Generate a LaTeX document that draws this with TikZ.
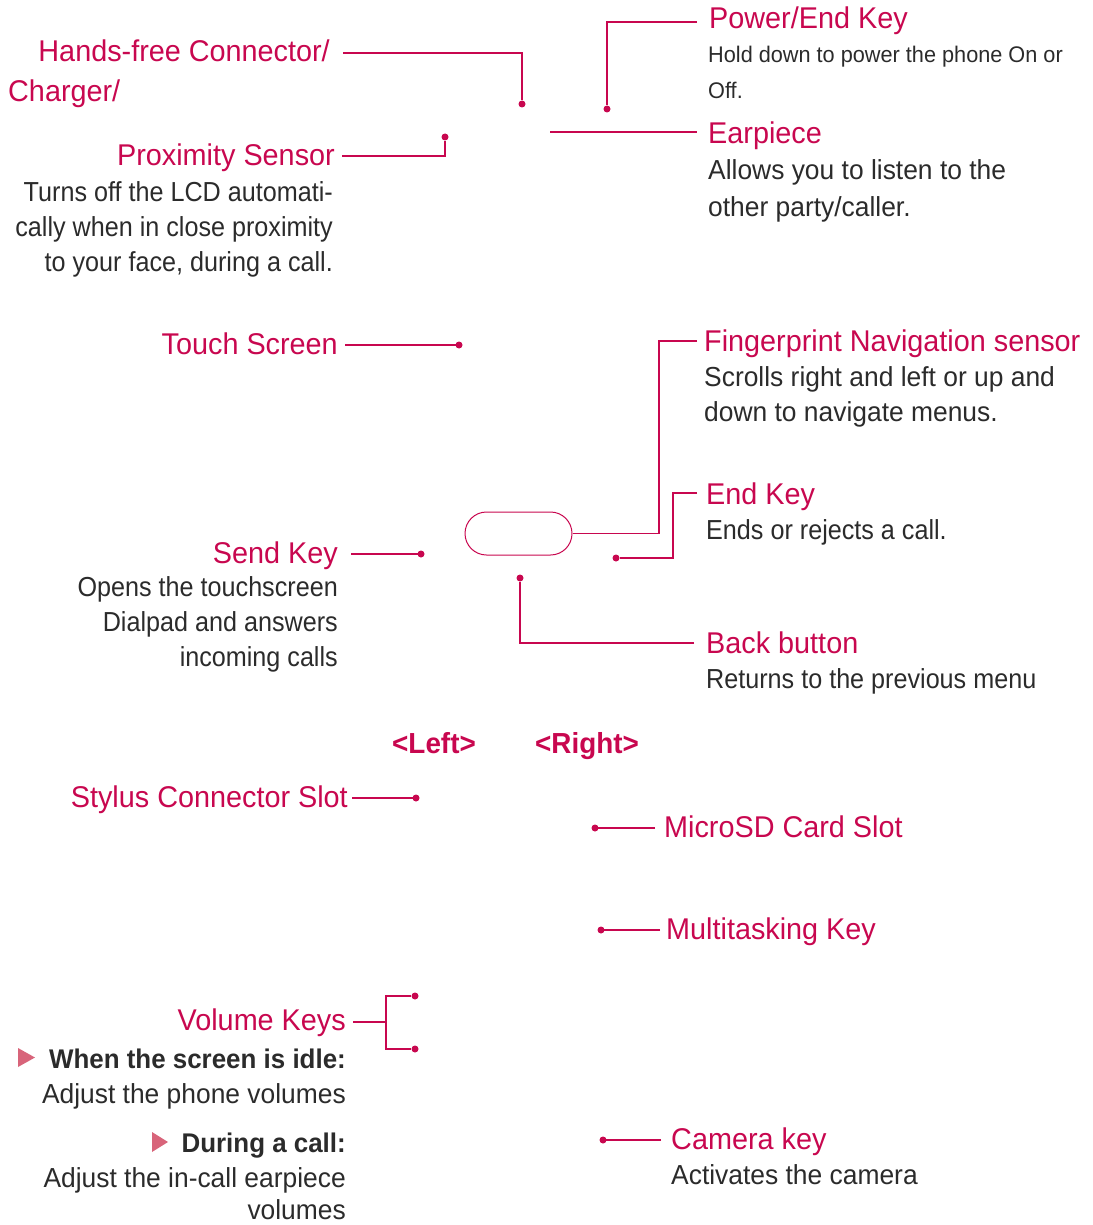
\documentclass[tikz,border=0pt]{standalone}
\usepackage{fontspec}
\setmainfont{Liberation Sans}[FakeStretch=0.96]
\newfontfamily\tightfont{Liberation Sans}[FakeStretch=0.915]
\usepackage{tikz}
\usetikzlibrary{shapes.misc}
\usepackage{xcolor}

\definecolor{lgred}{HTML}{C8074F}
\definecolor{lgtext}{HTML}{2B2B2B}
\definecolor{lgtri}{HTML}{D8647A}

\tikzset{
  head/.style={inner sep=0, text=lgred, font=\fontsize{30}{36}\selectfont},
  desc/.style={inner sep=0, text=lgtext, font=\fontsize{27.5}{35}\selectfont},
  tightdesc/.style={desc, font=\tightfont\fontsize{27.5}{35}\selectfont},
  smalldesc/.style={desc, font=\fontsize{22.6}{36}\selectfont},
  boldtxt/.style={desc, font=\bfseries\fontsize{27}{35}\selectfont},
  lead/.style={lgred, line width=1.6pt},
  endpt/.style={circle, fill=lgred, inner sep=0, minimum size=7pt}
}

\begin{document}
\begin{tikzpicture}[x=1pt,y=-1pt]
\useasboundingbox (0,0) rectangle (1092,1225);

% end points on the phone
\node[endpt] (hfdot) at (522,104) {};
\node[endpt] (pwrdot) at (607,109) {};
\node[endpt] (proxdot) at (445,137) {};
\node[endpt] (touchdot) at (459,345) {};
\node[endpt] (senddot) at (421,554) {};
\node[endpt] (enddot) at (616,558) {};
\node[endpt] (backdot) at (520,578) {};
\node[endpt] (stydot) at (416,798) {};
\node[endpt] (sddot) at (595,828) {};
\node[endpt] (multidot) at (601,930) {};
\node[endpt] (volup) at (415,996) {};
\node[endpt] (voldown) at (415,1049) {};
\node[endpt] (camdot) at (603,1140) {};
\coordinate (earend) at (550,132);
\node[draw=lgred, line width=1pt, rounded rectangle, minimum width=107pt, minimum height=43pt, inner sep=0] (oval) at (518.5,533.5) {};

% left hand labels
\node[head, anchor=base east] (hf) at (330,62) {Hands-free Connector/};
\node[head, anchor=base west] (chg) at (8,102) {Charger/};
\node[head, anchor=base east] (prox) at (335,166) {Proximity Sensor};
\foreach \t [count=\i] in {Turns off the LCD automati-, cally when in close proximity, {to your face, during a call.}}
	\node[tightdesc, anchor=base east] (prox\i) at (333,166+35*\i) {\t};
\node[head, anchor=base east] (touch) at (338,354) {Touch Screen};
\node[head, anchor=base east] (send) at (338,563) {Send Key};
\foreach \t [count=\i] in {Opens the touchscreen, Dialpad and answers, incoming calls}
	\node[tightdesc, anchor=base east] (send\i) at (338,561+35*\i) {\t};
\node[head, anchor=base east] (sty) at (348,807) {Stylus Connector Slot};
\node[head, anchor=base east] (vol) at (346,1030) {Volume Keys};
\node[boldtxt, anchor=base east] (idle) at (346,1068) {When the screen is idle:};
\node[desc, anchor=base east] (idle1) at (346,1103) {Adjust the phone volumes};
\node[boldtxt, anchor=base east] (incall) at (346,1152) {During a call:};
\node[desc, anchor=base east] (incall1) at (346,1187) {Adjust the in-call earpiece};
\node[desc, anchor=base east] (incall2) at (346,1219) {volumes};
\fill[lgtri] (18,1048) -- (35,1057.5) -- (18,1067) -- cycle;
\fill[lgtri] (152,1132) -- (168,1142) -- (152,1152) -- cycle;

% right hand labels
\node[head, anchor=base west] (pwr) at (709,29) {Power/End Key};
\foreach \t [count=\i] in {Hold down to power the phone On or, Off.}
	\node[smalldesc, anchor=base west] (pwr\i) at (708,27+36*\i) {\t};
\node[head, anchor=base west] (ear) at (708,144) {Earpiece};
\foreach \t [count=\i] in {Allows you to listen to the, other party/caller.}
	\node[desc, anchor=base west] (ear\i) at (708,144+36*\i) {\t};
\node[head, anchor=base west] (finger) at (704,351) {Fingerprint Navigation sensor};
\foreach \t [count=\i] in {Scrolls right and left or up and, down to navigate menus.}
	\node[desc, anchor=base west] (finger\i) at (704,351+35*\i) {\t};
\node[head, anchor=base west] (endk) at (706,504) {End Key};
\node[tightdesc, anchor=base west] (endk1) at (706,539) {Ends or rejects a call.};
\node[head, anchor=base west] (back) at (706,653) {Back button};
\node[tightdesc, anchor=base west] (back1) at (706,688) {Returns to the previous menu};
\node[head, anchor=base west] (sd) at (664,837) {MicroSD Card Slot};
\node[head, anchor=base west] (multi) at (666,939) {Multitasking Key};
\node[head, anchor=base west] (cam) at (671,1149) {Camera key};
\node[desc, anchor=base west] (cam1) at (671,1184) {Activates the camera};

% views
\node[head, font=\bfseries\fontsize{29}{35}\selectfont, anchor=base] (lview) at (434,753) {<Left>};
\node[head, font=\bfseries\fontsize{29}{35}\selectfont, anchor=base] (rview) at (587,753) {<Right>};

% leader lines
\draw[lead] ([xshift=13pt,yshift=9pt]hf.base east) -| (hfdot);
\draw[lead] ([xshift=-12pt,yshift=7pt]pwr.base west) -| (pwrdot);
\draw[lead] (earend) -- ([xshift=-11pt]earend -| ear.west);
\draw[lead] ([xshift=7pt,yshift=10pt]prox.base east) -| (proxdot);
\draw[lead] ([xshift=7pt,yshift=9pt]touch.base east) -| (touchdot);
\draw[lead] ([xshift=-7pt,yshift=10pt]finger.base west) -- ++(-38,0) |- (oval.east);
\draw[lead] ([xshift=-9pt,yshift=11pt]endk.base west) -- ++(-24,0) |- (enddot);
\draw[lead] ([xshift=13pt,yshift=9pt]send.base east) -| (senddot);
\draw[lead] ([xshift=-12pt,yshift=10pt]back.base west) -| (backdot);
\draw[lead] ([xshift=4pt,yshift=9pt]sty.base east) -| (stydot);
\draw[lead] ([xshift=-9pt,yshift=9pt]sd.base west) -| (sddot);
\draw[lead] ([xshift=-6pt,yshift=9pt]multi.base west) -| (multidot);
\draw[lead] ([xshift=7pt,yshift=8pt]vol.base east) -- ++(33,0) coordinate (volfork);
\draw[lead] (volup) -| (volfork) |- (voldown);
\draw[lead] ([xshift=-10pt,yshift=9pt]cam.base west) -| (camdot);
\end{tikzpicture}
\end{document}
